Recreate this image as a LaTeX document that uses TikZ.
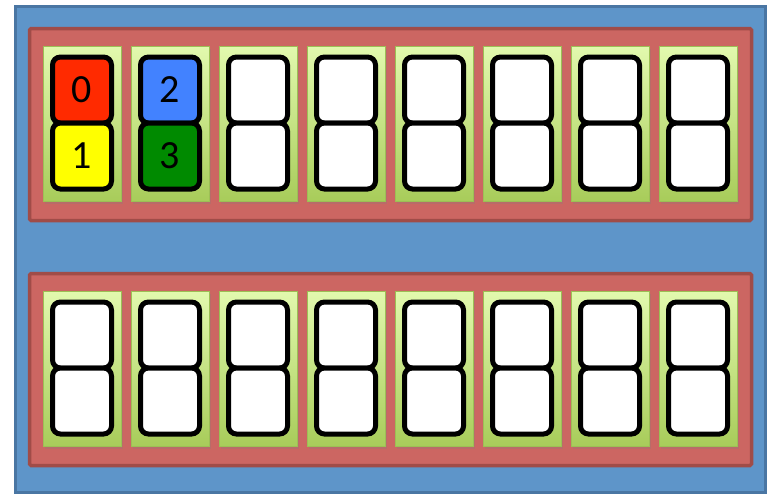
\documentclass[tikz,border=0pt]{standalone}
\usepackage{fontspec}
\setmainfont{Carlito}
\usetikzlibrary{positioning,shadows}
\definecolor{boardblue}{HTML}{5E95C9}
\definecolor{boardedge}{HTML}{4A76A3}
\definecolor{rackred}{HTML}{CC6662}
\definecolor{rackedge}{HTML}{A04C48}
\definecolor{slottop}{HTML}{E2F9AE}
\definecolor{slotbot}{HTML}{A8CC5A}
\definecolor{slotedge}{HTML}{9CBF55}
\definecolor{cellred}{HTML}{FF2A00}
\definecolor{cellblue}{HTML}{4282FF}
\definecolor{cellyellow}{HTML}{FFFF00}
\definecolor{cellgreen}{HTML}{008A00}
\tikzset{
  board/.style={draw=boardedge, fill=boardblue, line width=3pt},
  rack/.style={draw=rackedge, fill=rackred, line width=3.5pt, rounded corners=1.5pt,
    inner sep=0pt, minimum width=722pt, minimum height=192pt},
  slot/.style={draw=slotedge, line width=0.6pt, top color=slottop, bottom color=slotbot,
    minimum width=78pt, minimum height=155pt, inner sep=0pt,
    drop shadow={shadow xshift=2pt, shadow yshift=-3pt, opacity=0.25}},
  cell/.style={draw=black, fill=white, line width=5pt, rounded corners=8pt,
    minimum width=59pt, minimum height=66pt, inner sep=0pt,
    font=\fontsize{40}{40}\selectfont},
}
\begin{document}
\begin{tikzpicture}[x=1pt,y=-1pt]
    \useasboundingbox (0,0) rectangle (774,496);
    % Board
    \draw[board] (15.5,6.5) rectangle (765.5,492.5);
    % Racks
    \node[rack] (rackA) at (390.5,124.5) {};
    \node[rack] (rackB) at (390.5,369.5) {};
    % Slots with two cells each
    \foreach \i in {0,...,7} {
        \node[slot] (slotA\i) at (82+88*\i,123.5) {};
        \node[slot] (slotB\i) at (82+88*\i,368.5) {};
        \node[cell] (cellB\i a) at (82+88*\i,335) {};
        \node[cell] (cellB\i b) at (82+88*\i,401) {};
    }
    \foreach \i in {2,...,7} {
        \node[cell] (cellA\i a) at (82+88*\i,90) {};
        \node[cell] (cellA\i b) at (82+88*\i,156) {};
    }
    % Filled cells
    \node[cell, fill=cellred] (cellA0a) at (82,90) {0};
    \node[cell, fill=cellyellow] (cellA0b) at (82,156) {1};
    \node[cell, fill=cellblue] (cellA1a) at (170,90) {2};
    \node[cell, fill=cellgreen] (cellA1b) at (170,156) {3};
\end{tikzpicture}
\end{document}
